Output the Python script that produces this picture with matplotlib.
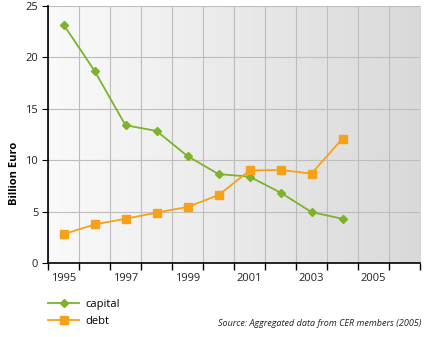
import numpy as np
import matplotlib.pyplot as plt
from matplotlib.colors import LinearSegmentedColormap

years = [1995, 1996, 1997, 1998, 1999, 2000, 2001, 2002, 2003, 2004]
capital = [23.2, 18.7, 13.4, 12.85, 10.4, 8.65, 8.4, 6.85, 4.95, 4.3]
debt = [2.8, 3.75, 4.3, 4.9, 5.45, 6.6, 9.0, 9.05, 8.7, 12.1]
axis_years = list(range(1995, 2007))
label_years = [1995, 1997, 1999, 2001, 2003, 2005]
source = "Source: Aggregated data from CER members (2005)"

green = "#7cb32a"
orange = "#f7a11a"

plt.rcParams["font.family"] = ["Open Sans", "DejaVu Sans"]

fig = plt.figure(figsize=(4.32, 3.37), dpi=100)
ax = fig.add_axes([48 / 432, 74 / 337, 372 / 432, 257 / 337])

x = np.arange(len(years))
n = len(axis_years)
ax.set_xlim(-0.5, n - 0.5)
ax.set_ylim(0, 25)

# background shading, light on the left, grey on the right
cmap = LinearSegmentedColormap.from_list("bg", ["#fafafa", "#d9d9d9"])
ax.imshow(np.linspace(0, 1, 256).reshape(1, -1), cmap=cmap, aspect="auto",
          extent=(-0.5, n - 0.5, 0, 25), zorder=0)

ax.plot(x, capital, color=green, lw=1.3, marker="D", ms=4.5, label="capital", zorder=3)
ax.plot(x, debt, color=orange, lw=1.3, marker="s", ms=6, label="debt", zorder=3)

# band edges get ticks and grid lines, labels sit in the middle of the bands
edges = np.arange(-0.5, n, 1.0)
ax.set_xticks(edges)
ax.set_xticklabels([])
ax.set_xticks([axis_years.index(y) for y in label_years], minor=True)
ax.set_xticklabels([str(y) for y in label_years], minor=True)
ax.tick_params(axis="x", which="major", length=5, width=1, color="black")
ax.tick_params(axis="x", which="minor", length=0, pad=7, labelsize=8, labelcolor="#222222")
ax.set_yticks([0, 5, 10, 15, 20, 25])
ax.tick_params(axis="y", length=4, width=0.8, labelsize=8, labelcolor="#222222", pad=3)

ax.grid(True, which="major", color="#bdbdbd", lw=0.8, zorder=1)
ax.set_axisbelow(True)

for side in ("top", "right"):
    ax.spines[side].set_visible(False)
for side in ("left", "bottom"):
    ax.spines[side].set_linewidth(1.2)
    ax.spines[side].set_zorder(4)

ax.set_ylabel("Billion Euro", fontsize=8, fontweight="bold")
ax.yaxis.set_label_coords(-0.076, 0.35)

fig.legend(loc="upper left", bbox_to_anchor=(48 / 432, 38 / 337), frameon=False,
           fontsize=8, handlelength=2.8, handletextpad=0.6, borderpad=0,
           borderaxespad=0, labelspacing=0.5)

fig.text(421 / 432, 14 / 337, source, ha="right", va="center", fontsize=6.5,
         style="italic", color="#222222")

fig.savefig("out.png", dpi=100)
